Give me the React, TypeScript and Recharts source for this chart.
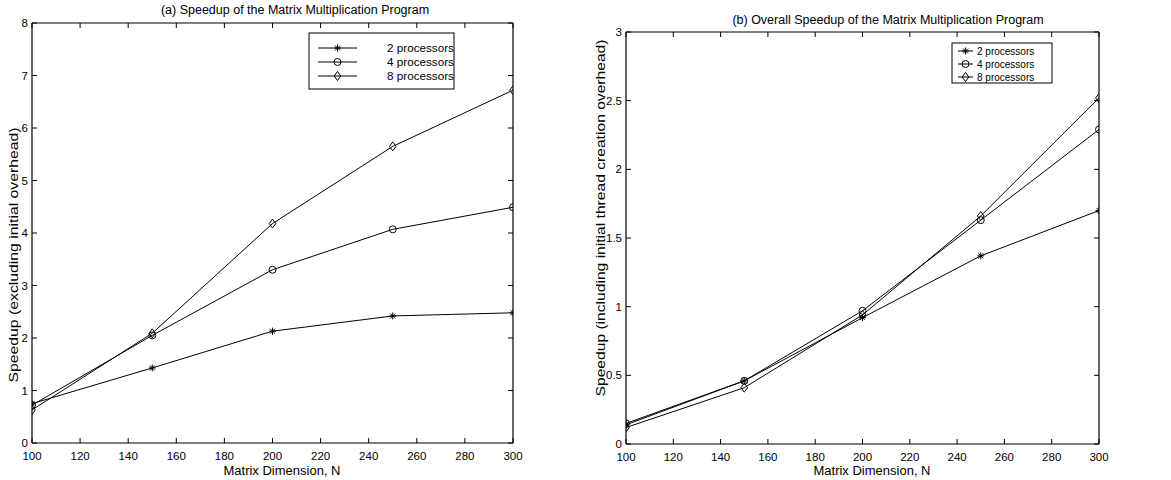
import { Line, LineChart, XAxis, YAxis } from "recharts";

const dims = [100, 150, 200, 250, 300];
const exclTwo = [0.75, 1.43, 2.13, 2.42, 2.48];
const exclFour = [0.72, 2.05, 3.3, 4.07, 4.49];
const exclEight = [0.63, 2.09, 4.18, 5.65, 6.72];
const inclTwo = [0.14, 0.46, 0.92, 1.37, 1.7];
const inclFour = [0.15, 0.46, 0.97, 1.63, 2.29];
const inclEight = [0.12, 0.41, 0.94, 1.66, 2.52];

const xTicks = [100, 120, 140, 160, 180, 200, 220, 240, 260, 280, 300];
const yTicksA = [0, 1, 2, 3, 4, 5, 6, 7, 8];
const yTicksB = [0, 0.5, 1, 1.5, 2, 2.5, 3];

const seriesNames = ["2 processors", "4 processors", "8 processors"];
const seriesKeys = ["p2", "p4", "p8"];
const markerKinds = ["star", "circle", "diamond"];

const font = "'Liberation Sans', Arial, Helvetica, sans-serif";

const dataA = dims.map((n, i) => ({ n, p2: exclTwo[i], p4: exclFour[i], p8: exclEight[i] }));
const dataB = dims.map((n, i) => ({ n, p2: inclTwo[i], p4: inclFour[i], p8: inclEight[i] }));

function Marker({ kind, cx, cy }: { kind: string; cx: number; cy: number }) {
  if (kind === "star") {
    const r = 3.5;
    const d = 2.5;
    return (
      <g stroke="#000" strokeWidth={1}>
        <line x1={cx - r} y1={cy} x2={cx + r} y2={cy} />
        <line x1={cx} y1={cy - r} x2={cx} y2={cy + r} />
        <line x1={cx - d} y1={cy - d} x2={cx + d} y2={cy + d} />
        <line x1={cx - d} y1={cy + d} x2={cx + d} y2={cy - d} />
      </g>
    );
  }
  if (kind === "circle") {
    return <circle cx={cx} cy={cy} r={3.5} fill="none" stroke="#000" strokeWidth={1} />;
  }
  return (
    <polygon
      points={`${cx},${cy - 4.5} ${cx + 3.3},${cy} ${cx},${cy + 4.5} ${cx - 3.3},${cy}`}
      fill="none"
      stroke="#000"
      strokeWidth={1}
    />
  );
}

function BottomTick({ x, y, payload }: any) {
  return (
    <g>
      <line x1={x} y1={y} x2={x} y2={y - 5} stroke="#000" />
      <text x={x} y={y + 17} textAnchor="middle" fontSize={11.5} fontFamily={font} fill="#000">
        {payload.value}
      </text>
    </g>
  );
}

function TopTick({ x, y }: any) {
  return <line x1={x} y1={y} x2={x} y2={y + 5} stroke="#000" />;
}

function LeftTick({ x, y, payload }: any) {
  return (
    <g>
      <line x1={x} y1={y} x2={x + 5} y2={y} stroke="#000" />
      <text x={x - 4} y={y + 4} textAnchor="end" fontSize={11.5} fontFamily={font} fill="#000">
        {payload.value}
      </text>
    </g>
  );
}

function RightTick({ x, y }: any) {
  return <line x1={x} y1={y} x2={x - 5} y2={y} stroke="#000" />;
}

function Panel({
  data,
  width,
  yTicks,
  yMax,
  yWidth,
  right,
  top,
  bottom,
}: {
  data: any[];
  width: number;
  yTicks: number[];
  yMax: number;
  yWidth: number;
  right: number;
  top: number;
  bottom: number;
}) {
  const axisCommon = { tickLine: false, tickSize: 0, tickMargin: 0, axisLine: { stroke: "#000", strokeWidth: 1.2 } };
  return (
    <LineChart width={width} height={480} data={data} margin={{ top: top - 2, right: right - 2, bottom: 0, left: 0 }}>
      <XAxis
        xAxisId="b"
        dataKey="n"
        type="number"
        domain={[100, 300]}
        ticks={xTicks}
        interval={0}
        height={bottom}
        allowDataOverflow
        tick={<BottomTick />}
        {...axisCommon}
      />
      <XAxis
        xAxisId="t"
        orientation="top"
        dataKey="n"
        type="number"
        domain={[100, 300]}
        ticks={xTicks}
        interval={0}
        height={2}
        allowDataOverflow
        tick={<TopTick />}
        {...axisCommon}
      />
      <YAxis
        yAxisId="l"
        type="number"
        domain={[0, yMax]}
        ticks={yTicks}
        interval={0}
        width={yWidth}
        allowDataOverflow
        tick={<LeftTick />}
        {...axisCommon}
      />
      <YAxis
        yAxisId="r"
        orientation="right"
        type="number"
        domain={[0, yMax]}
        ticks={yTicks}
        interval={0}
        width={2}
        allowDataOverflow
        tick={<RightTick />}
        {...axisCommon}
      />
      {/* invisible series so the top/right frame axes get drawn */}
      <Line
        xAxisId="t"
        yAxisId="r"
        type="linear"
        dataKey="p2"
        stroke="none"
        dot={false}
        activeDot={false}
        isAnimationActive={false}
      />
      {seriesKeys.map((k, si) => (
        <Line
          key={k}
          xAxisId="b"
          yAxisId="l"
          type="linear"
          dataKey={k}
          stroke="#000"
          strokeWidth={1}
          isAnimationActive={false}
          dot={(p: any) => <Marker key={`${k}-${p.index}`} kind={markerKinds[si]} cx={p.cx} cy={p.cy} />}
          activeDot={false}
        />
      ))}
    </LineChart>
  );
}

function LegendBox({
  x,
  y,
  w,
  h,
  rowY,
  lineX1,
  lineX2,
  textX,
  fontSize,
}: {
  x: number;
  y: number;
  w: number;
  h: number;
  rowY: number[];
  lineX1: number;
  lineX2: number;
  textX: number;
  fontSize: number;
}) {
  return (
    <g>
      <rect x={x} y={y} width={w} height={h} fill="#fff" stroke="#000" strokeWidth={1} />
      {seriesNames.map((name, i) => (
        <g key={name}>
          <line x1={lineX1} y1={rowY[i]} x2={lineX2} y2={rowY[i]} stroke="#000" strokeWidth={1} />
          <Marker kind={markerKinds[i]} cx={(lineX1 + lineX2) / 2} cy={rowY[i]} />
          <text x={textX} y={rowY[i] + fontSize * 0.36} fontSize={fontSize} fontFamily={font} fill="#000">
            {name}
          </text>
        </g>
      ))}
    </g>
  );
}

export default function App() {
  return (
    <div style={{ position: "absolute", left: 0, top: 0, width: 1171, height: 480, background: "#fff" }}>
      <div style={{ position: "absolute", left: 0, top: 0 }}>
        <Panel data={dataA} width={560} yTicks={yTicksA} yMax={8} yWidth={32} right={47} top={23} bottom={37} />
      </div>
      <div style={{ position: "absolute", left: 590, top: 0 }}>
        <Panel data={dataB} width={581} yTicks={yTicksB} yMax={3} yWidth={36} right={72} top={32} bottom={36} />
      </div>
      <svg
        width={1171}
        height={480}
        style={{ position: "absolute", left: 0, top: 0, pointerEvents: "none" }}
      >
        <text x={295} y={14} textAnchor="middle" fontSize={12.5} fontFamily={font} fill="#000">
          (a) Speedup of the Matrix Multiplication Program
        </text>
        <text x={888} y={24} textAnchor="middle" fontSize={12.5} fontFamily={font} fill="#000">
          (b) Overall Speedup of the Matrix Multiplication Program
        </text>
        <text x={282} y={475} textAnchor="middle" fontSize={13} fontFamily={font} fill="#000">
          Matrix Dimension, N
        </text>
        <text x={872} y={475} textAnchor="middle" fontSize={13} fontFamily={font} fill="#000">
          Matrix Dimension, N
        </text>
        <text
          transform="translate(18,255) rotate(-90)"
          textAnchor="middle"
          fontSize={13}
          fontFamily={font}
          fill="#000"
          textLength={255}
          lengthAdjust="spacingAndGlyphs"
        >
          Speedup (excluding initial overhead)
        </text>
        <text
          transform="translate(605,218) rotate(-90)"
          textAnchor="middle"
          fontSize={13}
          fontFamily={font}
          fill="#000"
          textLength={357}
          lengthAdjust="spacingAndGlyphs"
        >
          Speedup (including initial thread creation overhead)
        </text>
        <LegendBox x={309} y={33} w={145} h={56} rowY={[48, 62, 76]} lineX1={318} lineX2={357} textX={387} fontSize={11.7} />
        <LegendBox x={952} y={43} w={100} h={40} rowY={[51, 64, 77]} lineX1={958} lineX2={973} textX={977} fontSize={10} />
      </svg>
    </div>
  );
}
